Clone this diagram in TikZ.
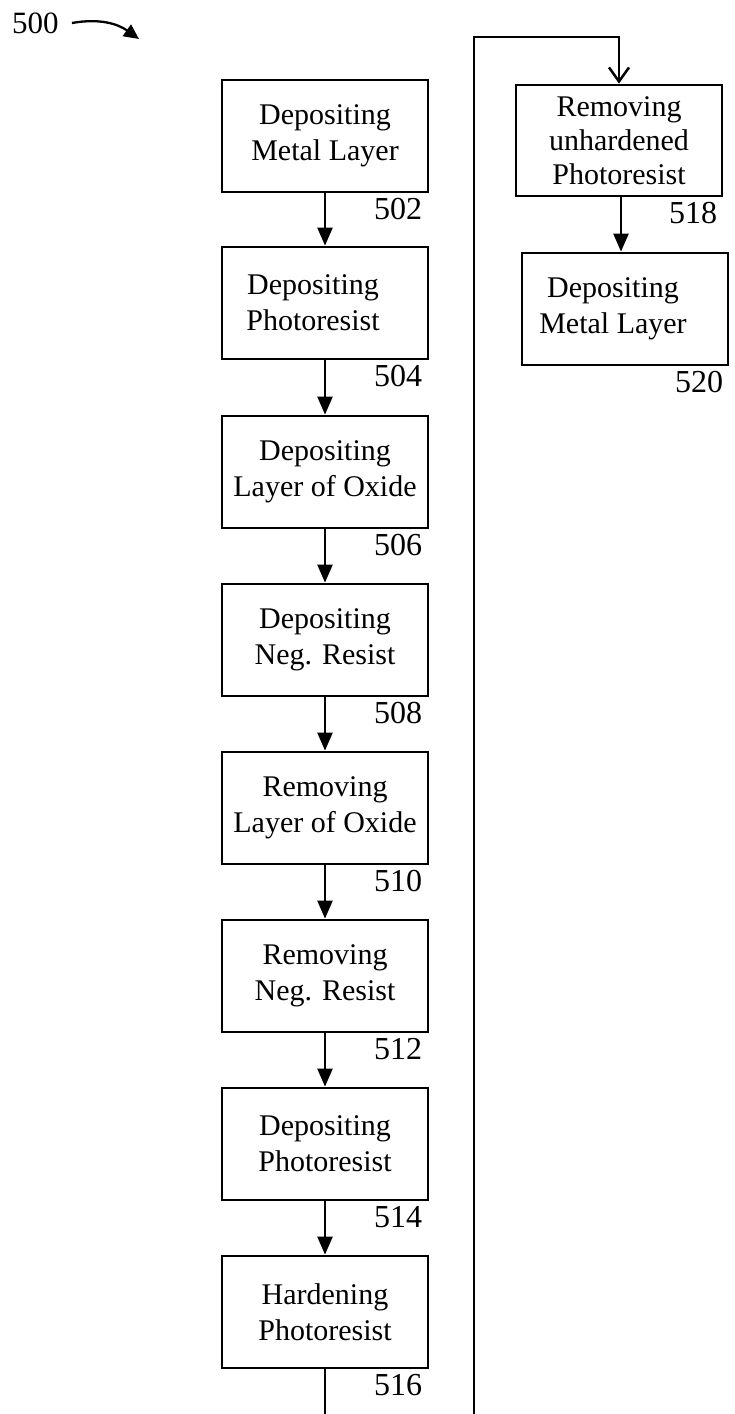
\documentclass[tikz,border=0pt]{standalone}
\usepackage{fontspec}
\setmainfont{Liberation Serif}
\usetikzlibrary{arrows.meta}
\newcommand{\lft}{\hspace*{-24pt}}
\begin{document}
\begin{tikzpicture}[x=1pt,y=-1pt,
  stepbox/.style={draw,line width=2.8pt,minimum width=206pt,minimum height=112pt,inner sep=0pt,align=center,font=\fontsize{30}{36}\selectfont},
  smallbox/.style={stepbox,font=\fontsize{30}{34}\selectfont},
  reflab/.style={anchor=north east,inner sep=0pt,font=\fontsize{32}{36}\selectfont},
  flow/.style={line width=2.5pt,-{Triangle[width=15pt,length=18pt]}},
  feed/.style={line width=2.5pt,-{Straight Barb[width=20pt,length=14pt,line width=2.5pt]}}]
\useasboundingbox (0,0) rectangle (734,1414);
% title
\node[anchor=west,inner sep=0pt,font=\fontsize{31}{36}\selectfont] (t500) at (12,23) {500};
\coordinate (t500tip) at (139,39);
\draw[line width=2.3pt,-{Triangle[width=14pt,length=15pt]}] ([xshift=13pt]t500.east) .. controls (100,18) and (118,24) .. (t500tip);
% left column
\node[stepbox] (b502) at (325,136) {Depositing\\Metal Layer};
\node[stepbox] (b504) at (325,303) {\lft Depositing\\\lft Photoresist};
\node[stepbox] (b506) at (325,472) {Depositing\\Layer of Oxide};
\node[stepbox] (b508) at (325,640) {Depositing\\Neg. Resist};
\node[stepbox] (b510) at (325,808) {Removing\\Layer of Oxide};
\node[stepbox] (b512) at (325,976) {Removing\\Neg. Resist};
\node[stepbox] (b514) at (325,1144) {Depositing\\Photoresist};
\node[stepbox] (b516) at (325,1312) {Hardening\\Photoresist};
\foreach \n in {502,504,506,508,510,512,514,516}{
  \node[reflab] (l\n) at ([xshift=-7pt,yshift=-5pt]b\n.south east) {\n};
}
\draw[flow] (b502) -- (b504);
\draw[flow] (b504) -- (b506);
\draw[flow] (b506) -- (b508);
\draw[flow] (b508) -- (b510);
\draw[flow] (b510) -- (b512);
\draw[flow] (b512) -- (b514);
\draw[flow] (b514) -- (b516);
% right column
\node[smallbox,minimum height=111pt] (b518) at (619,140.5) {Removing\\unhardened\\Photoresist};
\node[stepbox] (b520) at (625,309) {\lft Depositing\\\lft Metal Layer};
\node[reflab] (l518) at ([xshift=-6pt,yshift=-5pt]b518.south east) {518};
\node[reflab] (l520) at ([xshift=-6pt,yshift=-5pt]b520.south east) {520};
\draw[flow] ([xshift=2pt]b518.south) -- ([xshift=2pt]b518.south |- b520.north);
% feedback from 516 to 518 (joined below the page edge)
\coordinate (fbx) at (474,1440);
\coordinate (fbtop) at (474,37);
\draw[feed] (b516.south) -- (b516.south |- fbx) -- (fbx) -- (fbtop) -- (fbtop -| b518.north) -- (b518.north);
\end{tikzpicture}
\end{document}
